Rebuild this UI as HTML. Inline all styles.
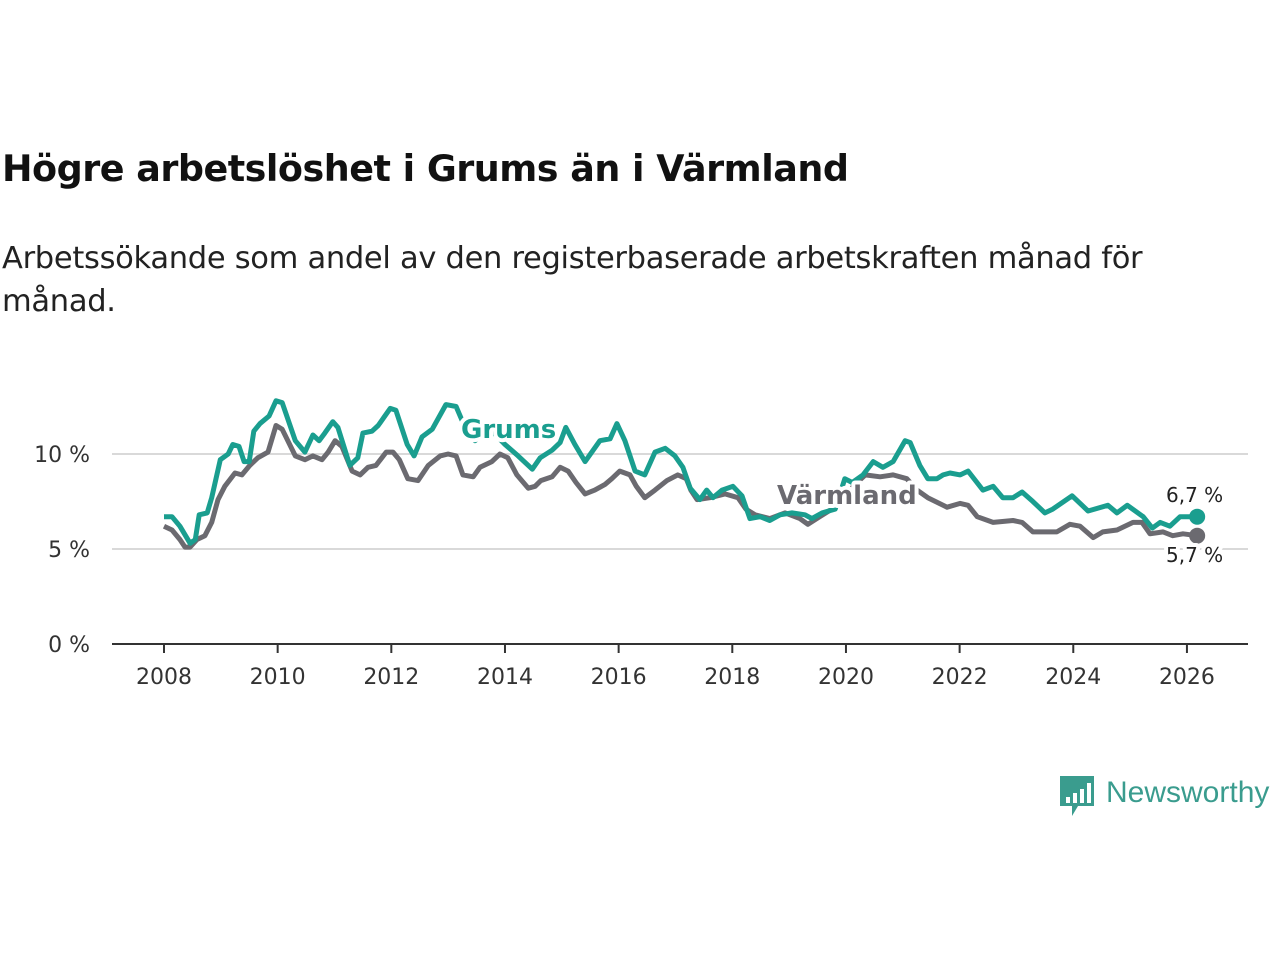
<!DOCTYPE html>
<html><head><meta charset="utf-8"><style>
body{margin:0;background:#fff;width:1280px;height:960px;overflow:hidden;font-family:"Liberation Sans","DejaVu Sans",sans-serif}
#title{position:absolute;left:2px;top:147px;font-size:36.5px;font-weight:bold;color:#111;font-family:"DejaVu Sans","Liberation Sans",sans-serif;letter-spacing:-0.5px}
#sub{position:absolute;left:2px;top:237px;font-size:30.5px;line-height:43px;color:#222;width:1240px;font-family:"DejaVu Sans","Liberation Sans",sans-serif;letter-spacing:-0.3px}
svg{position:absolute;left:0;top:0}
</style></head><body>
<div id="title">Högre arbetslöshet i Grums än i Värmland</div>
<div id="sub">Arbetssökande som andel av den registerbaserade arbetskraften månad för<br>månad.</div>
<svg id="chart" width="1280" height="960"></svg>
<script>
const grumsYears=[2008.00,2008.14,2008.28,2008.46,2008.55,2008.62,2008.76,2008.84,2008.99,2009.13,2009.21,2009.32,2009.41,2009.50,2009.58,2009.69,2009.85,2009.97,2010.08,2010.31,2010.48,2010.62,2010.73,2010.83,2010.97,2011.06,2011.27,2011.41,2011.50,2011.66,2011.77,2011.98,2012.08,2012.28,2012.40,2012.54,2012.72,2012.96,2013.14,2013.24,2013.47,2013.74,2014.00,2014.23,2014.48,2014.62,2014.83,2014.97,2015.07,2015.23,2015.41,2015.67,2015.85,2015.97,2016.11,2016.29,2016.46,2016.64,2016.82,2016.99,2017.13,2017.26,2017.43,2017.55,2017.66,2017.82,2018.01,2018.17,2018.31,2018.49,2018.66,2018.84,2019.05,2019.28,2019.40,2019.58,2019.81,2019.98,2020.11,2020.30,2020.48,2020.65,2020.83,2021.04,2021.13,2021.30,2021.44,2021.60,2021.71,2021.83,2022.01,2022.15,2022.41,2022.59,2022.76,2022.94,2023.10,2023.29,2023.50,2023.64,2023.98,2024.26,2024.61,2024.77,2024.95,2025.23,2025.39,2025.53,2025.70,2025.88,2026.18];
const grumsValues=[6.7,6.7,6.2,5.3,5.5,6.8,6.9,7.7,9.7,10.0,10.5,10.4,9.6,9.6,11.2,11.6,12.0,12.8,12.7,10.7,10.1,11.0,10.7,11.1,11.7,11.4,9.4,9.8,11.1,11.2,11.5,12.4,12.3,10.5,9.9,10.9,11.3,12.6,12.5,11.8,10.7,11.3,10.5,9.9,9.2,9.8,10.2,10.6,11.4,10.5,9.6,10.7,10.8,11.6,10.7,9.1,8.9,10.1,10.3,9.9,9.3,8.2,7.6,8.1,7.7,8.1,8.3,7.8,6.6,6.7,6.5,6.8,6.9,6.8,6.6,6.9,7.1,8.7,8.5,8.9,9.6,9.3,9.6,10.7,10.6,9.4,8.7,8.7,8.9,9.0,8.9,9.1,8.1,8.3,7.7,7.7,8.0,7.5,6.9,7.1,7.8,7.0,7.3,6.9,7.3,6.7,6.1,6.4,6.2,6.7,6.7];
const varmYears=[2008.00,2008.14,2008.28,2008.37,2008.46,2008.58,2008.72,2008.84,2008.95,2009.07,2009.25,2009.37,2009.51,2009.65,2009.83,2009.97,2010.08,2010.31,2010.48,2010.62,2010.78,2010.89,2011.01,2011.13,2011.31,2011.45,2011.59,2011.73,2011.91,2012.03,2012.14,2012.29,2012.47,2012.65,2012.86,2013.00,2013.14,2013.26,2013.44,2013.56,2013.77,2013.91,2014.05,2014.21,2014.41,2014.53,2014.63,2014.83,2014.97,2015.11,2015.25,2015.41,2015.58,2015.76,2015.88,2016.02,2016.20,2016.31,2016.46,2016.64,2016.85,2017.04,2017.19,2017.27,2017.38,2017.61,2017.87,2018.10,2018.24,2018.40,2018.66,2018.93,2019.19,2019.33,2019.54,2019.75,2019.98,2020.16,2020.34,2020.60,2020.83,2021.07,2021.25,2021.44,2021.78,2022.01,2022.15,2022.31,2022.59,2022.94,2023.10,2023.29,2023.71,2023.94,2024.12,2024.35,2024.52,2024.77,2025.05,2025.21,2025.35,2025.58,2025.75,2025.93,2026.18];
const varmValues=[6.2,6.0,5.5,5.1,5.1,5.5,5.7,6.4,7.6,8.3,9.0,8.9,9.4,9.8,10.1,11.5,11.3,9.9,9.7,9.9,9.7,10.1,10.7,10.4,9.1,8.9,9.3,9.4,10.1,10.1,9.7,8.7,8.6,9.4,9.9,10.0,9.9,8.9,8.8,9.3,9.6,10.0,9.8,8.9,8.2,8.3,8.6,8.8,9.3,9.1,8.5,7.9,8.1,8.4,8.7,9.1,8.9,8.3,7.7,8.1,8.6,8.9,8.7,8.1,7.6,7.7,7.9,7.7,7.1,6.8,6.6,6.9,6.6,6.3,6.7,7.1,7.8,8.4,8.9,8.8,8.9,8.7,8.1,7.7,7.2,7.4,7.3,6.7,6.4,6.5,6.4,5.9,5.9,6.3,6.2,5.6,5.9,6.0,6.4,6.4,5.8,5.9,5.7,5.8,5.7];
const yTicks=[0,5,10];
const yTickLabels=["0 %","5 %","10 %"];
const xTicks=[2008,2010,2012,2014,2016,2018,2020,2022,2024,2026];
const lastLabels=["6,7 %","5,7 %"];

const NS="http://www.w3.org/2000/svg";
const svg=document.getElementById('chart');
const X=y=>164+(y-2008)*56.83;
const Y=v=>644-v*19;
function mk(tag,attrs,parent){const e=document.createElementNS(NS,tag);for(const k in attrs)e.setAttribute(k,attrs[k]);(parent||svg).appendChild(e);return e;}
yTicks.forEach((t,i)=>{
  if(t>0){const g=mk('line',{x1:112,x2:1248,y1:Y(t),y2:Y(t),stroke:'#d9d9d9','stroke-width':2});
  
  }
  const tx=mk('text',{x:90,y:Y(t)+8,'text-anchor':'end','font-size':22,fill:'#333','font-family':'DejaVu Sans, Liberation Sans, sans-serif'});
  tx.textContent=yTickLabels[i];
  
  
});
const ax=mk('line',{x1:112,x2:1248,y1:Y(0),y2:Y(0),stroke:'#333','stroke-width':2});


xTicks.forEach(t=>{
  const l=mk('line',{x1:X(t),x2:X(t),y1:Y(0),y2:Y(0)+9,stroke:'#333','stroke-width':2});
  
  
  const tx=mk('text',{x:X(t),y:684,'text-anchor':'middle','font-size':22,fill:'#333','font-family':'DejaVu Sans, Liberation Sans, sans-serif'});
  tx.textContent=t;
  
  
});
function line(xs,vs,col,name){
  const d=xs.map((x,i)=>(i?'L':'M')+X(x).toFixed(1)+','+Y(vs[i]).toFixed(1)).join('');
  const p=mk('path',{d:d,fill:'none',stroke:col,'stroke-width':5,'stroke-linejoin':'round'});
  
  
  const n=xs.length-1;
  const c=mk('circle',{cx:X(xs[n]),cy:Y(vs[n]),r:8,fill:col});
  
  
}
line(varmYears,varmValues,'#6b6a70','varmland-line');
line(grumsYears,grumsValues,'#1a9e8f','grums-line');
function lab(t,x,y,col,name,size,bold){
  const a={x:x,y:y,'font-size':size,fill:col,'font-family':'DejaVu Sans, Liberation Sans, sans-serif',stroke:'#fff','stroke-width':8,'paint-order':'stroke','stroke-linejoin':'round'};
  if(bold)a['font-weight']='bold';
  const e=mk('text',a);e.textContent=t;
  
  
}
lab('Grums',461,438,'#1a9e8f','grums-label',26,true);
lab('Värmland',777,504,'#6b6a70','varmland-label',26,true);
lab(lastLabels[0],1166,502,'#222','grums-last-value',20,false);
lab(lastLabels[1],1166,562,'#222','varmland-last-value',20,false);
// logo
const lg=mk('g',{});


mk('path',{d:'M1060,776 h34 v30 h-16 l-6,10 v-10 h-12 z',fill:'#3a9c8e'},lg);
[[1066,6],[1073,10],[1080,14],[1087,20]].forEach(b=>mk('rect',{x:b[0],y:803-b[1],width:4,height:b[1],fill:'#fff'},lg));
const lt=mk('text',{x:1106,y:802,'font-size':30,fill:'#3a9c8e','font-family':'Liberation Sans, sans-serif'},lg);
lt.textContent='Newsworthy';
</script>
</body></html>
